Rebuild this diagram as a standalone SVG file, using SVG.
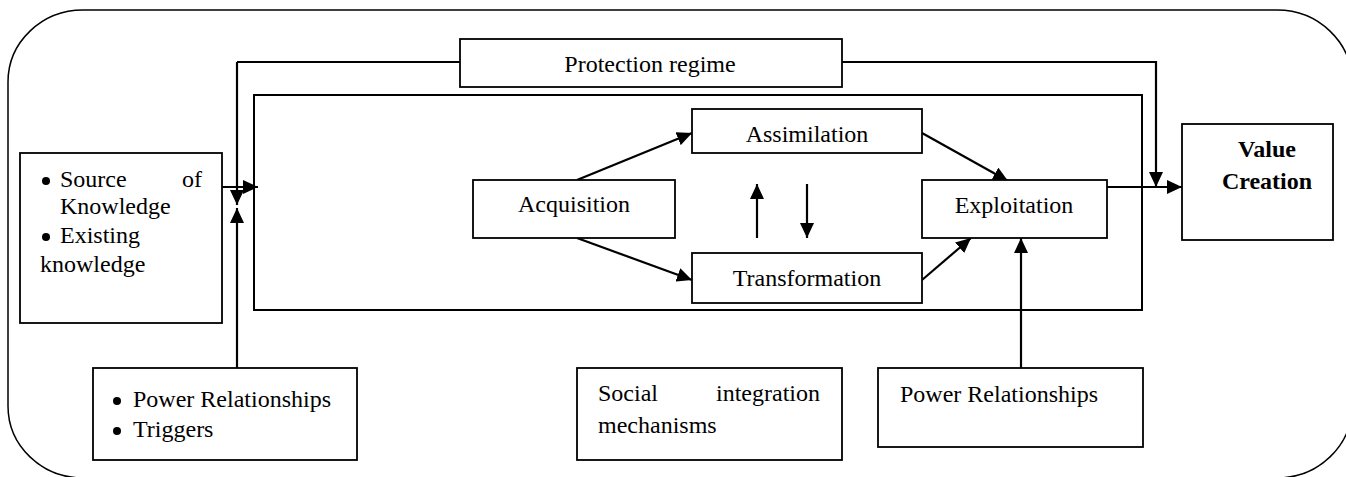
<svg xmlns="http://www.w3.org/2000/svg" width="1346" height="477" viewBox="0 0 1346 477">
<style>
text{font-family:"Liberation Serif","Times New Roman",serif;font-size:24px;fill:#000}
.dot{fill:#000}
.b{fill:#fff;stroke:#000;stroke-width:1.8}
.c{fill:none;stroke:#000;stroke-width:2.2}
.m{text-anchor:middle}
.e{text-anchor:end}
.bold{font-weight:bold}
</style>
<defs>
<marker id="ah" viewBox="0 0 15 14" refX="15" refY="7" markerWidth="15" markerHeight="14" markerUnits="userSpaceOnUse" orient="auto"><path d="M0,0 L15,7 L0,14 z" fill="#000"/></marker>
</defs>
<rect x="0" y="0" width="1346" height="477" fill="#fff"/>
<g id="frame"><rect x="8" y="10" width="1344" height="468" rx="75" ry="72" fill="none" stroke="#000" stroke-width="1.5"/></g>
<g id="inner"><rect x="254" y="95" width="888" height="215" fill="none" stroke="#000" stroke-width="2"/></g>
<g id="connectors">
<path class="c" d="M237,62 L460,62"/>
<path class="c" d="M237,62 L237,205" marker-end="url(#ah)"/>
<path class="c" d="M237,368 L237,208" marker-end="url(#ah)"/>
<path class="c" d="M222,187 L258,187" marker-end="url(#ah)"/>
<path class="c" d="M842,62 L1156,62 L1156,187" marker-end="url(#ah)"/>
<path class="c" d="M577,180 L692,133" marker-end="url(#ah)"/>
<path class="c" d="M577,238 L692,280" marker-end="url(#ah)"/>
<path class="c" d="M757,238 L757,184" marker-end="url(#ah)"/>
<path class="c" d="M807,184 L807,238" marker-end="url(#ah)"/>
<path class="c" d="M922,133 L1008,181" marker-end="url(#ah)"/>
<path class="c" d="M922,280 L971,238" marker-end="url(#ah)"/>
<path class="c" d="M1107,187 L1182,187" marker-end="url(#ah)"/>
<path class="c" d="M1021,368 L1021,238" marker-end="url(#ah)"/>
</g>
<g id="protection"><rect class="b" x="460" y="39" width="382" height="48"/><text class="m" x="650" y="72">Protection regime</text></g>
<g id="source"><rect class="b" x="20" y="153" width="202" height="170"/>
<circle class="dot" cx="46" cy="181" r="4"/><text x="60" y="187">Source</text><text class="e" x="202" y="187">of</text>
<text x="60" y="214">Knowledge</text>
<circle class="dot" cx="46" cy="237" r="4"/><text x="60" y="243">Existing</text>
<text x="40" y="272">knowledge</text></g>
<g id="acquisition"><rect class="b" x="473" y="180" width="202" height="58"/><text class="m" x="574" y="212">Acquisition</text></g>
<g id="assimilation"><rect class="b" x="692" y="109" width="230" height="44"/><text class="m" x="807" y="142">Assimilation</text></g>
<g id="transformation"><rect class="b" x="692" y="253" width="230" height="50"/><text class="m" x="807" y="286">Transformation</text></g>
<g id="exploitation"><rect class="b" x="922" y="180" width="185" height="58"/><text class="m" x="1014" y="213">Exploitation</text></g>
<g id="value"><rect class="b" x="1182" y="124" width="151" height="116"/><text class="m bold" x="1267" y="157">Value</text><text class="m bold" x="1267" y="189">Creation</text></g>
<g id="power-triggers"><rect class="b" x="93" y="368" width="264" height="92"/>
<circle class="dot" cx="117" cy="401" r="4"/><text x="133" y="407">Power Relationships</text>
<circle class="dot" cx="117" cy="431" r="4"/><text x="133" y="437">Triggers</text></g>
<g id="social"><rect class="b" x="577" y="368" width="265" height="92"/><text x="598" y="401">Social</text><text class="e" x="820" y="401">integration</text><text x="598" y="433">mechanisms</text></g>
<g id="power"><rect class="b" x="878" y="368" width="265" height="79"/><text x="900" y="402">Power Relationships</text></g>
</svg>
